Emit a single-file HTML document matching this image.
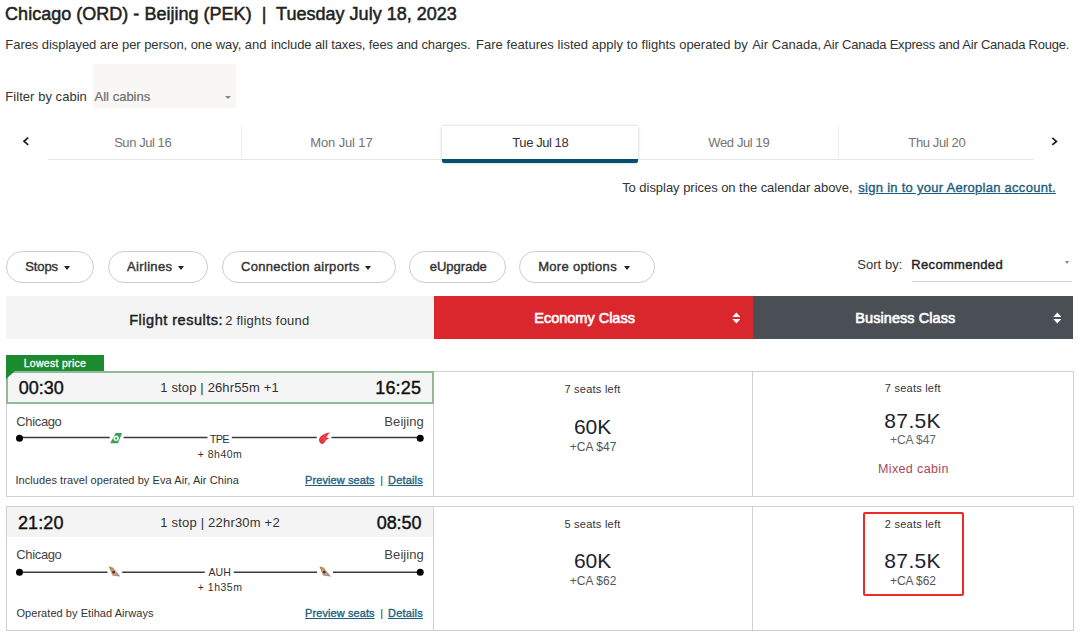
<!DOCTYPE html>
<html lang="en">
<head>
<meta charset="utf-8">
<title>Flight results</title>
<style>
html,body{margin:0;padding:0;background:#fff;}
body{width:1080px;height:636px;position:relative;overflow:hidden;font-family:"Liberation Sans",Arial,sans-serif;color:#333;}
.a,.s{position:absolute;white-space:nowrap;line-height:1;}
.a{z-index:2;}
.pill{position:absolute;top:251px;height:30px;border:1px solid #cecece;border-radius:16px;background:#fff;box-sizing:content-box;}
.caret{position:absolute;width:0;height:0;border-left:3.7px solid transparent;border-right:3.7px solid transparent;border-top:4.2px solid #222;}
.cell{position:absolute;border:1px solid #d0d0d0;background:#fff;box-sizing:content-box;}
</style>
</head>
<body>
<!-- cabin select -->
<div class="s" style="left:93.3px;top:64px;width:142.7px;height:44.4px;background:#f8f7f5;"></div>
<div class="s" style="left:224.8px;top:95.8px;width:0;height:0;border-left:3.4px solid transparent;border-right:3.4px solid transparent;border-top:3.6px solid #858585;"></div>

<!-- date tabs -->
<div class="s" style="left:47.5px;top:159px;width:986px;height:1.4px;background:#e6e6e6;"></div>
<div class="s" style="left:241px;top:127px;width:1px;height:33px;background:#efefef;"></div>
<div class="s" style="left:838px;top:127px;width:1px;height:33px;background:#efefef;"></div>
<div class="s" style="left:442px;top:126px;width:196px;height:36.8px;background:#fff;box-shadow:0 0 3px rgba(0,0,0,.25);border-radius:0 0 2px 2px;"></div>
<div class="s" style="left:442px;top:159.3px;width:196px;height:3.6px;background:#00506e;border-radius:0 0 2px 2px;"></div>
<svg class="s" style="left:21px;top:136px" width="10" height="12" viewBox="0 0 10 12"><path d="M7.2 1.7 L3 5.3 L7.2 8.9" fill="none" stroke="#1a1a1a" stroke-width="1.7"/></svg>
<svg class="s" style="left:1048px;top:136px" width="10" height="12" viewBox="0 0 10 12"><path d="M4.3 1.9 L8.4 5.4 L4.3 8.9" fill="none" stroke="#1a1a1a" stroke-width="1.7"/></svg>

<!-- pills -->
<div class="pill" style="left:6px;width:86px;"></div>
<div class="pill" style="left:108px;width:98px;"></div>
<div class="pill" style="left:222px;width:172px;"></div>
<div class="pill" style="left:409px;width:95px;"></div>
<div class="pill" style="left:519px;width:134px;"></div>
<div class="caret" style="left:64px;top:266px;"></div>
<div class="caret" style="left:177.5px;top:266px;"></div>
<div class="caret" style="left:365px;top:266px;"></div>
<div class="caret" style="left:623.5px;top:266px;"></div>

<!-- sort -->
<div class="s" style="left:912px;top:280.8px;width:160px;height:1.4px;background:#d4d4d4;"></div>
<div class="s" style="left:1065px;top:261px;width:0;height:0;border-left:2.5px solid transparent;border-right:2.5px solid transparent;border-top:3px solid #888;"></div>

<!-- header bar -->
<div class="s" style="left:6px;top:295.6px;width:428px;height:43.8px;background:#f4f4f4;"></div>
<div class="s" style="left:433.5px;top:295.6px;width:319px;height:43.8px;background:#d9272d;"></div>
<div class="s" style="left:752.5px;top:295.6px;width:320.5px;height:43.8px;background:#4a4f55;"></div>
<svg class="s" style="left:731.8px;top:312.3px" width="8.6" height="12" viewBox="0 0 8 11"><path d="M0.3 4.5 L4 0.3 L7.7 4.5Z M0.3 6.5 L4 10.7 L7.7 6.5Z" fill="#fff"/></svg>
<svg class="s" style="left:1052.7px;top:312.3px" width="8.6" height="12" viewBox="0 0 8 11"><path d="M0.3 4.5 L4 0.3 L7.7 4.5Z M0.3 6.5 L4 10.7 L7.7 6.5Z" fill="#fff"/></svg>

<!-- card 1 -->
<div class="s" style="left:6px;top:355px;width:98px;height:17px;background:#1c8a2f;"></div>
<div class="cell" style="left:6px;top:371px;width:426px;height:124px;"></div>
<div class="s" style="left:6.1px;top:371px;width:427.8px;height:32.6px;background:#93b99b;z-index:1;"></div><div class="s" style="left:7.6px;top:372.6px;width:424.7px;height:29.4px;background:#f5f5f5;z-index:1;"></div>
<svg class="s" style="left:6px;top:371px;z-index:2" width="10" height="9" viewBox="0 0 10 9"><path d="M0 0 H9 L0 8Z" fill="#1c8a2f"/></svg>

<svg class="s" style="left:0;top:428px" width="440" height="20" viewBox="0 428 440 20">
<g stroke="#3a3a3a" stroke-width="1.5" fill="none"><path d="M20 437.6H109.7M123.6 437.6H207.5M231.8 437.6H316.7M331.5 437.6H420"/></g>
<circle cx="19.5" cy="438.3" r="3.5" fill="#000"/><circle cx="420.2" cy="438.3" r="3.5" fill="#000"/>
<path d="M115.6 433H122.1L117.9 443.2H110.2Z" fill="#35a354"/><circle cx="116.1" cy="438.3" r="2.7" fill="#f2faf3"/><circle cx="116.1" cy="438.4" r="1.1" fill="#35a354"/>
<path d="M329.9 432.5C325 433 320 435.5 319 439.5C318.8 441.6 320.4 443.6 322.4 444.3C324 443 325.5 441.5 326 440L329.1 438.6L326.5 437.5C327.1 435.6 328.4 434 329.9 432.5Z" fill="#ea2a35"/><path d="M322.2 441.8L327.6 435.6M320.6 439.6L326 434.6" stroke="#fff" stroke-width=".5" opacity=".55" fill="none"/>
</svg>
<!-- card 2 -->
<div class="cell" style="left:6px;top:506px;width:426px;height:123px;"></div>
<div class="s" style="left:7px;top:507px;width:426px;height:30px;background:#f4f4f4;"></div>

<svg class="s" style="left:0;top:562px" width="440" height="20" viewBox="0 562 440 20">
<defs><linearGradient id="et" x1="0" y1="0" x2="1" y2="1"><stop offset="0" stop-color="#a37a2f"/><stop offset=".5" stop-color="#cfa892"/><stop offset="1" stop-color="#858585"/></linearGradient></defs>
<g stroke="#3a3a3a" stroke-width="1.5" fill="none"><path d="M20 572.2H107.5M122.2 572.2H204.8M233.7 572.2H317.1M333 572.2H420"/></g>
<circle cx="19.5" cy="572.3" r="3.5" fill="#000"/><circle cx="420.2" cy="572.3" r="3.5" fill="#000"/>
<path id="eth" d="M108.8 566.2L113.4 567.8L120.4 576.6L112.4 575.8Z" fill="url(#et)"/><circle cx="113.6" cy="572.2" r="1.4" fill="#5a3024"/>
<path d="M319.4 566.2L324 567.8L331 576.6L323 575.8Z" fill="url(#et)"/><circle cx="324.2" cy="572.2" r="1.4" fill="#5a3024"/>
</svg>
<!-- fare cells -->
<div class="cell" style="left:433px;top:371px;width:319px;height:124px;"></div>
<div class="cell" style="left:752px;top:371px;width:320px;height:124px;"></div>
<div class="cell" style="left:433px;top:506px;width:319px;height:123px;"></div>
<div class="cell" style="left:752px;top:506px;width:320px;height:123px;"></div>
<div class="s" style="left:863px;top:512px;width:97px;height:80px;border:2.4px solid #ee2a24;border-radius:2px;"></div>

<div class="a" id="title" style="left:5.10px;top:5.0px;font-size:18px;color:#222;letter-spacing:0.017px;-webkit-text-stroke:0.5px #222;">Chicago (ORD) - Beijing (PEK)&nbsp; |&nbsp; Tuesday July 18, 2023</div>
<div class="a" id="sub1" style="left:5.35px;top:38.0px;font-size:13px;color:#333;letter-spacing:-0.057px;">Fares displayed are per person, one way, and</div>
<div class="a" id="sub2" style="left:270.95px;top:38.0px;font-size:13px;color:#333;letter-spacing:-0.097px;">include all taxes, fees and charges.</div>
<div class="a" id="sub3" style="left:475.95px;top:38.0px;font-size:13px;color:#333;letter-spacing:0.046px;">Fare features listed apply to</div>
<div class="a" id="sub4" style="left:641.55px;top:38.0px;font-size:13px;color:#333;letter-spacing:0.004px;">flights operated by</div>
<div class="a" id="sub5" style="left:752.15px;top:38.0px;font-size:13px;color:#333;letter-spacing:0.024px;">Air Canada,</div>
<div class="a" id="sub6" style="left:823.35px;top:38.0px;font-size:13px;color:#333;letter-spacing:-0.213px;">Air Canada Express and Air Canada Rouge.</div>
<div class="a" id="fbc" style="left:5.35px;top:90.0px;font-size:13px;color:#333;letter-spacing:0.041px;">Filter by cabin</div>
<div class="a" id="selt" style="left:94.55px;top:90.0px;font-size:13px;color:#6e6e6e;letter-spacing:0.007px;-webkit-text-stroke:0.2px #6e6e6e;">All cabins</div>
<div class="a" id="tab1" style="left:114.15px;top:136.0px;font-size:13px;color:#737373;letter-spacing:-0.438px;">Sun Jul 16</div>
<div class="a" id="tab2" style="left:310.35px;top:136.0px;font-size:13px;color:#737373;letter-spacing:-0.144px;">Mon Jul 17</div>
<div class="a" id="tab3" style="left:512.35px;top:136.0px;font-size:13px;color:#333;letter-spacing:-0.437px;">Tue Jul 18</div>
<div class="a" id="tab4" style="left:708.35px;top:136.0px;font-size:13px;color:#737373;letter-spacing:-0.389px;">Wed Jul 19</div>
<div class="a" id="tab5" style="left:908.35px;top:136.0px;font-size:13px;color:#737373;letter-spacing:-0.378px;">Thu Jul 20</div>
<div class="a" id="disp" style="left:622.15px;top:181.0px;font-size:13px;color:#333;letter-spacing:-0.038px;">To display prices on the calendar above,</div>
<div class="a" id="displ" style="left:858.35px;top:181.0px;font-size:13px;color:#1f5f7e;letter-spacing:0.271px;-webkit-text-stroke:0.4px #1f5f7e;text-decoration:underline;">sign in to your Aeroplan account.</div>
<div class="a" id="p1" style="left:25.15px;top:260.0px;font-size:13px;color:#333;letter-spacing:-0.087px;-webkit-text-stroke:0.4px #333;">Stops</div>
<div class="a" id="p2" style="left:126.95px;top:260.0px;font-size:13px;color:#333;letter-spacing:0.354px;-webkit-text-stroke:0.4px #333;">Airlines</div>
<div class="a" id="p3" style="left:240.95px;top:260.0px;font-size:13px;color:#333;letter-spacing:0.309px;-webkit-text-stroke:0.4px #333;">Connection airports</div>
<div class="a" id="p4" style="left:429.75px;top:260.0px;font-size:13px;color:#333;letter-spacing:-0.001px;-webkit-text-stroke:0.4px #333;">eUpgrade</div>
<div class="a" id="p5" style="left:538.15px;top:260.0px;font-size:13px;color:#333;letter-spacing:0.304px;-webkit-text-stroke:0.4px #333;">More options</div>
<div class="a" id="sortby" style="left:857.15px;top:258.0px;font-size:13px;color:#333;letter-spacing:0.072px;">Sort by:</div>
<div class="a" id="rec" style="left:911.35px;top:258.0px;font-size:13px;color:#222;letter-spacing:0.314px;-webkit-text-stroke:0.4px #222;">Recommended</div>
<div class="a" id="fr" style="left:129.28px;top:312.8px;font-size:14.5px;color:#222;letter-spacing:0.501px;-webkit-text-stroke:0.45px #222;">Flight results:</div>
<div class="a" id="fr2" style="left:225.15px;top:314.0px;font-size:13px;color:#333;letter-spacing:0.225px;">2 flights found</div>
<div class="a" id="eco" style="left:534.27px;top:310.8px;font-size:14.5px;color:#fff;letter-spacing:-0.007px;-webkit-text-stroke:0.6px #fff;">Economy Class</div>
<div class="a" id="biz" style="left:855.27px;top:310.8px;font-size:14.5px;color:#fff;letter-spacing:0.071px;-webkit-text-stroke:0.6px #fff;">Business Class</div>
<div class="a" id="lowest" style="left:23.68px;top:357.8px;font-size:10.5px;color:#fff;letter-spacing:0.300px;-webkit-text-stroke:0.3px #fff;">Lowest price</div>
<div class="a" id="t1a" style="left:18.70px;top:379.0px;font-size:18px;color:#111;letter-spacing:-0.012px;-webkit-text-stroke:0.4px #111;">00:30</div>
<div class="a" id="t1b" style="left:375.30px;top:379.0px;font-size:18px;color:#111;letter-spacing:0.138px;-webkit-text-stroke:0.4px #111;">16:25</div>
<div class="a" id="t1m" style="left:160.35px;top:381.0px;font-size:13px;color:#333;letter-spacing:0.141px;">1 stop | 26hr55m +1</div>
<div class="a" id="c1a" style="left:16.35px;top:415.0px;font-size:13px;color:#444;letter-spacing:-0.367px;">Chicago</div>
<div class="a" id="c1b" style="left:384.35px;top:415.0px;font-size:13px;color:#444;letter-spacing:0.078px;">Beijing</div>
<div class="a" id="tpe" style="left:209.85px;top:433.5px;font-size:11px;color:#333;letter-spacing:-0.853px;">TPE</div>
<div class="a" id="lay1" style="left:197.87px;top:448.8px;font-size:10.5px;color:#333;letter-spacing:0.449px;">+ 8h40m</div>
<div class="a" id="op1" style="left:15.45px;top:474.5px;font-size:11px;color:#333;letter-spacing:0.071px;">Includes travel operated by Eva Air, Air China</div>
<div class="a" id="lk1a" style="left:305.05px;top:474.5px;font-size:11px;color:#1f5f7e;letter-spacing:0.085px;-webkit-text-stroke:0.35px #1f5f7e;text-decoration:underline;">Preview seats</div>
<div class="a" id="lk1s" style="left:380.25px;top:474.5px;font-size:11px;color:#333;">|</div>
<div class="a" id="lk1b" style="left:388.05px;top:474.5px;font-size:11px;color:#1f5f7e;letter-spacing:0.179px;-webkit-text-stroke:0.35px #1f5f7e;text-decoration:underline;">Details</div>
<div class="a" id="t2a" style="left:17.90px;top:514.0px;font-size:18px;color:#111;letter-spacing:0.138px;-webkit-text-stroke:0.4px #111;">21:20</div>
<div class="a" id="t2b" style="left:376.70px;top:514.0px;font-size:18px;color:#111;letter-spacing:-0.062px;-webkit-text-stroke:0.4px #111;">08:50</div>
<div class="a" id="t2m" style="left:160.35px;top:516.0px;font-size:13px;color:#333;letter-spacing:0.196px;">1 stop | 22hr30m +2</div>
<div class="a" id="c2a" style="left:16.35px;top:548.0px;font-size:13px;color:#444;letter-spacing:-0.367px;">Chicago</div>
<div class="a" id="c2b" style="left:384.35px;top:548.0px;font-size:13px;color:#444;letter-spacing:0.078px;">Beijing</div>
<div class="a" id="auh" style="left:208.47px;top:566.8px;font-size:10.5px;color:#333;letter-spacing:0.039px;">AUH</div>
<div class="a" id="lay2" style="left:197.87px;top:581.8px;font-size:10.5px;color:#333;letter-spacing:0.482px;">+ 1h35m</div>
<div class="a" id="op2" style="left:16.45px;top:607.5px;font-size:11px;color:#333;letter-spacing:0.054px;">Operated by Etihad Airways</div>
<div class="a" id="lk2a" style="left:305.05px;top:607.5px;font-size:11px;color:#1f5f7e;letter-spacing:0.085px;-webkit-text-stroke:0.35px #1f5f7e;text-decoration:underline;">Preview seats</div>
<div class="a" id="lk2s" style="left:380.25px;top:607.5px;font-size:11px;color:#333;">|</div>
<div class="a" id="lk2b" style="left:388.05px;top:607.5px;font-size:11px;color:#1f5f7e;letter-spacing:0.179px;-webkit-text-stroke:0.35px #1f5f7e;text-decoration:underline;">Details</div>
<div class="a" id="e1s" style="left:564.45px;top:383.5px;font-size:11px;color:#333;letter-spacing:0.245px;">7 seats left</div>
<div class="a" id="e1p" style="left:573.95px;top:416.0px;font-size:21px;color:#1d2230;letter-spacing:-0.038px;">60K</div>
<div class="a" id="e1c" style="left:569.80px;top:441.0px;font-size:12px;color:#555;letter-spacing:0.038px;">+CA $47</div>
<div class="a" id="b1s" style="left:884.85px;top:382.5px;font-size:11px;color:#333;letter-spacing:0.227px;">7 seats left</div>
<div class="a" id="b1p" style="left:884.35px;top:410.0px;font-size:21px;color:#1d2230;letter-spacing:0.352px;">87.5K</div>
<div class="a" id="b1c" style="left:890.00px;top:434.0px;font-size:12px;color:#666;letter-spacing:-0.062px;">+CA $47</div>
<div class="a" id="b1m" style="left:877.97px;top:462.8px;font-size:12.5px;color:#a8485a;letter-spacing:0.375px;">Mixed cabin</div>
<div class="a" id="e2s" style="left:564.45px;top:518.5px;font-size:11px;color:#333;letter-spacing:0.245px;">5 seats left</div>
<div class="a" id="e2p" style="left:573.95px;top:550.0px;font-size:21px;color:#1d2230;letter-spacing:-0.038px;">60K</div>
<div class="a" id="e2c" style="left:569.80px;top:575.0px;font-size:12px;color:#555;letter-spacing:0.038px;">+CA $62</div>
<div class="a" id="b2s" style="left:884.85px;top:518.5px;font-size:11px;color:#333;letter-spacing:0.227px;">2 seats left</div>
<div class="a" id="b2p" style="left:884.35px;top:550.0px;font-size:21px;color:#1d2230;letter-spacing:0.352px;">87.5K</div>
<div class="a" id="b2c" style="left:890.00px;top:575.0px;font-size:12px;color:#555;letter-spacing:-0.062px;">+CA $62</div>
</body>
</html>
